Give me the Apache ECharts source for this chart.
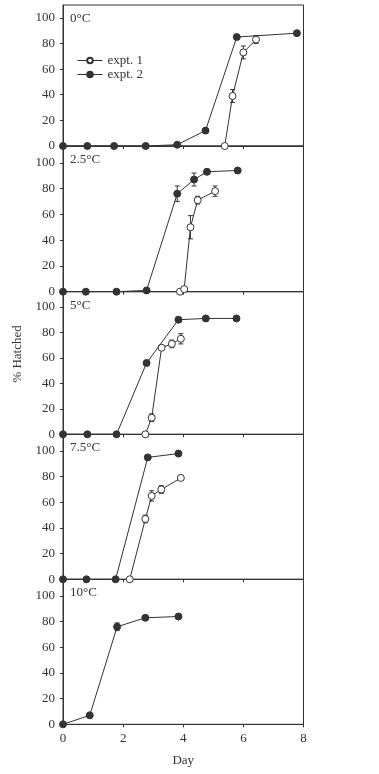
<!DOCTYPE html>
<html><head><meta charset="utf-8">
<script src="https://cdn.jsdelivr.net/npm/echarts@6/dist/echarts.min.js"></script>
<style>html,body{margin:0;padding:0;background:#fff}#c{width:379px;height:774px}</style>
</head><body><div id="c"></div>
<script>
const panelLabels = ['0°C', '2.5°C', '5°C', '7.5°C', '10°C'];
const xTicks = [0, 2, 4, 6, 8];
const yTicks = [0, 20, 40, 60, 80, 100];

// expt. 1 (open circles): [day, % hatched]
const expt1_0C   = [[5.38, 0], [5.64, 39], [6.0, 73], [6.42, 83]];
const expt1_2_5C = [[3.89, 0], [4.03, 2], [4.24, 50], [4.48, 71], [5.06, 78]];
const expt1_5C   = [[2.74, 0], [2.95, 13], [3.28, 68], [3.62, 71], [3.92, 75]];
const expt1_7_5C = [[2.22, 0], [2.74, 47], [2.95, 65], [3.27, 70], [3.92, 79]];
const expt1_10C  = [];

// expt. 2 (filled circles)
const expt2_0C   = [[0, 0], [0.81, 0], [1.7, 0], [2.75, 0], [3.8, 1], [4.74, 12], [5.78, 85], [7.78, 88]];
const expt2_2_5C = [[0, 0], [0.76, 0], [1.78, 0], [2.78, 1], [3.8, 76], [4.36, 87], [4.79, 93], [5.81, 94]];
const expt2_5C   = [[0, 0], [0.81, 0], [1.78, 0], [2.78, 56], [3.84, 90], [4.75, 91], [5.77, 91]];
const expt2_7_5C = [[0, 0], [0.78, 0], [1.75, 0], [2.82, 95], [3.84, 98]];
const expt2_10C  = [[0, 0], [0.89, 7], [1.8, 76], [2.74, 83], [3.84, 84]];

// error bars: [day, mean, half-width]
const err1_0C   = [[5.64, 39, 5], [6.0, 73, 5], [6.42, 83, 3]];
const err2_0C   = [];
const err1_2_5C = [[4.24, 50, 9], [4.48, 71, 3], [5.06, 78, 4]];
const err2_2_5C = [[3.8, 76, 6], [4.36, 87, 5], [4.79, 93, 2]];
const err1_5C   = [[2.95, 13, 3], [3.62, 71, 3], [3.92, 75, 4]];
const err2_5C   = [[2.78, 56, 2]];
const err1_7_5C = [[2.74, 47, 3], [2.95, 65, 4], [3.27, 70, 3], [3.92, 79, 2]];
const err2_7_5C = [];
const err1_10C  = [];
const err2_10C  = [[1.8, 76, 3]];

const expt1 = [expt1_0C, expt1_2_5C, expt1_5C, expt1_7_5C, expt1_10C];
const expt2 = [expt2_0C, expt2_2_5C, expt2_5C, expt2_7_5C, expt2_10C];
const err1 = [err1_0C, err1_2_5C, err1_5C, err1_7_5C, err1_10C];
const err2 = [err2_0C, err2_2_5C, err2_5C, err2_7_5C, err2_10C];

// layout
const tops = [5, 146, 291.7, 434.3, 579.3];
const bottoms = [146, 291.7, 434.3, 579.3, 724.3];
const ymax = [110, 113, 112, 113, 113];

const INK = '#333';
const FONT = '"Liberation Serif", "DejaVu Serif", serif';

const grids = [], xAxes = [], yAxes = [], series = [], graphics = [];
for (let i = 0; i < 5; i++) {
  grids.push({left: 63, right: 75.5, top: tops[i], height: bottoms[i] - tops[i],
    show: true, borderColor: INK, borderWidth: 1, backgroundColor: 'transparent'});
  const last = i === 4;
  xAxes.push({type: 'value', gridIndex: i, min: 0, max: 8, interval: 2,
    axisLine: {lineStyle: {color: INK, width: 1}},
    axisTick: {show: true, inside: false, length: 3, lineStyle: {color: INK}},
    splitLine: {show: false},
    axisLabel: {show: last, margin: 8, color: INK, fontFamily: FONT, fontSize: 13},
    name: last ? 'Day' : '', nameLocation: 'middle', nameGap: 30,
    nameTextStyle: {color: INK, fontFamily: FONT, fontSize: 13}});
  yAxes.push({type: 'value', gridIndex: i, min: 0, max: ymax[i], interval: 20,
    axisLine: {show: true, lineStyle: {color: INK, width: 1}},
    axisTick: {show: true, inside: false, length: 3, lineStyle: {color: INK}, customValues: yTicks},
    splitLine: {show: false},
    axisLabel: {margin: 8, color: INK, fontFamily: FONT, fontSize: 13, customValues: yTicks}});

  const mkErr = (data) => ({
    type: 'custom', xAxisIndex: i, yAxisIndex: i, silent: true, z: 1,
    encode: {x: 0, y: [1, 2]},
    data: data.map(d => [d[0], d[1] - d[2], d[1] + d[2]]),
    renderItem: (p, api) => {
      const x = api.value(0);
      const lo = api.coord([x, api.value(1)]);
      const hi = api.coord([x, api.value(2)]);
      const w = 2.5, st = {stroke: INK, lineWidth: 1};
      return {type: 'group', children: [
        {type: 'line', shape: {x1: lo[0], y1: lo[1], x2: hi[0], y2: hi[1]}, style: st},
        {type: 'line', shape: {x1: lo[0] - w, y1: lo[1], x2: lo[0] + w, y2: lo[1]}, style: st},
        {type: 'line', shape: {x1: hi[0] - w, y1: hi[1], x2: hi[0] + w, y2: hi[1]}, style: st}
      ]};
    }
  });
  series.push(mkErr(err1[i]));
  series.push(mkErr(err2[i]));
  series.push({type: 'line', name: 'expt. 1', xAxisIndex: i, yAxisIndex: i, data: expt1[i],
    symbol: 'circle', symbolSize: 7, z: 3, animation: false,
    lineStyle: {color: INK, width: 1},
    itemStyle: {color: '#fff', borderColor: INK, borderWidth: 1}});
  series.push({type: 'line', name: 'expt. 2', xAxisIndex: i, yAxisIndex: i, data: expt2[i],
    symbol: 'circle', symbolSize: 7, z: 4, animation: false,
    lineStyle: {color: INK, width: 1},
    itemStyle: {color: INK, borderColor: INK, borderWidth: 1}});

  graphics.push({type: 'text', left: 70, top: tops[i] + 7,
    style: {text: panelLabels[i], fill: INK, font: '13px ' + FONT}});
}
graphics.push({type: 'text', x: 18, y: 354, rotation: Math.PI / 2,
  style: {text: '% Hatched', fill: INK, font: '13px ' + FONT, textAlign: 'center', textVerticalAlign: 'middle'}});

const chart = echarts.init(document.getElementById('c'));
chart.setOption({
  animation: false,
  grid: grids, xAxis: xAxes, yAxis: yAxes, series: series, graphic: graphics,
  legend: {data: ['expt. 1', 'expt. 2'], orient: 'vertical', left: 77, top: 54, padding: 0,
    itemWidth: 25, itemHeight: 7, itemGap: 1,
    lineStyle: {width: 1},
    textStyle: {color: INK, fontFamily: FONT, fontSize: 13}}
});
</script></body></html>
